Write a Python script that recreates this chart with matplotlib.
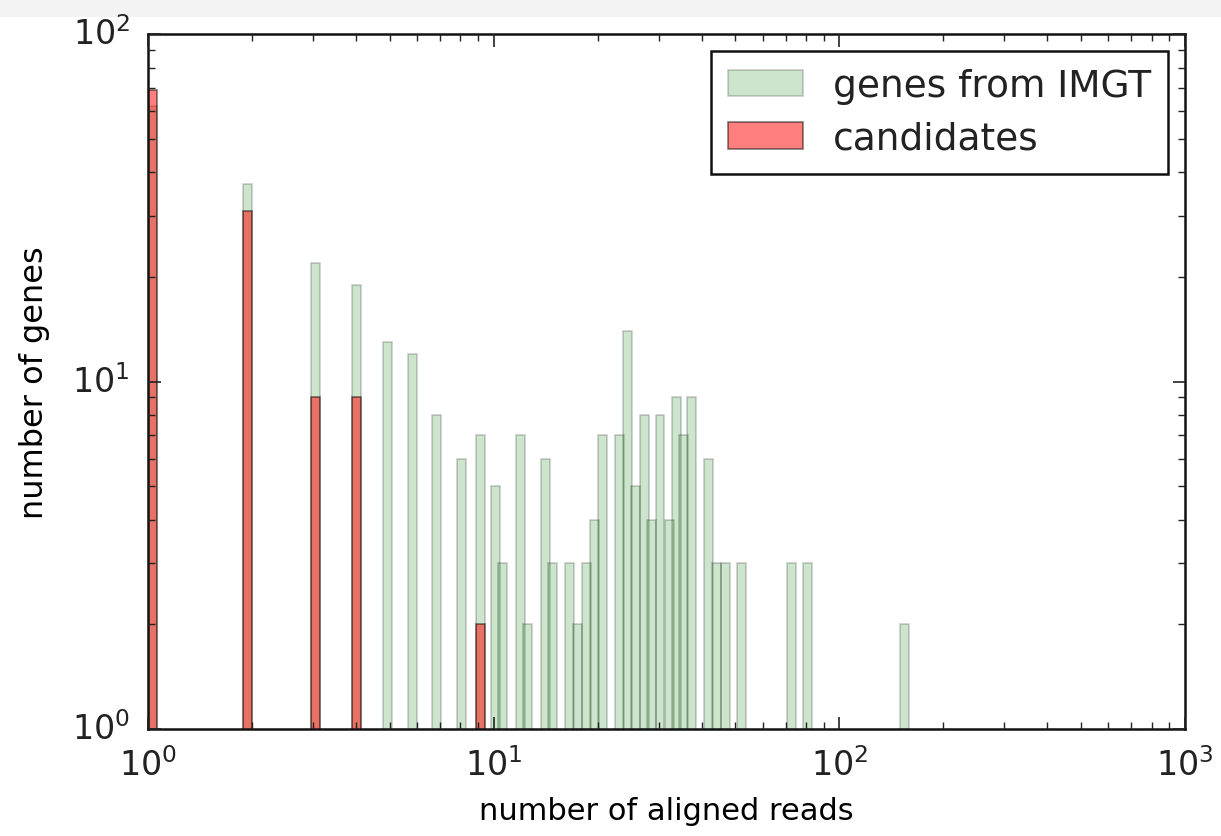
import numpy as np
import matplotlib
matplotlib.use("Agg")
import matplotlib.pyplot as plt
from matplotlib.patches import Rectangle

# read-count value where each bar starts, and how many genes it holds
imgt_left = [1.00, 1.88, 2.96, 3.89, 4.78, 5.64, 6.62, 7.82, 8.87, 9.80,
             10.27, 11.62, 12.13, 13.67, 14.33, 16.04, 16.97, 17.96, 18.95, 20.05,
             22.40, 23.67, 24.89, 26.42, 27.78, 29.39, 31.21, 32.80, 34.48, 36.25,
             40.72, 42.95, 45.61, 50.72, 70.52, 78.69, 150.1]
imgt_genes = [62, 37, 22, 19, 13, 12, 8, 6, 7, 5,
              3, 7, 2, 6, 3, 3, 2, 3, 4, 7,
              7, 14, 5, 8, 4, 8, 4, 9, 7, 9,
              6, 3, 3, 3, 3, 3, 2]

cand_left = [1.00, 1.88, 2.96, 3.89, 8.87]
cand_genes = [69, 31, 9, 9, 2]

plt.style.use('classic')
plt.rcParams['font.family'] = 'DejaVu Sans'
plt.rcParams['mathtext.fontset'] = 'dejavusans'
plt.rcParams['text.color'] = '#222222'
plt.rcParams['xtick.color'] = '#222222'
plt.rcParams['ytick.color'] = '#222222'

fig = plt.figure(figsize=(12.21, 8.37), dpi=100, facecolor='white')
fig.patches.append(Rectangle((0, 1 - 18 / 837), 1, 18 / 837, transform=fig.transFigure,
                             facecolor='#f3f3f3', edgecolor='none', zorder=-1))
ax = fig.add_axes([148 / 1221, 1 - 730 / 837, (1185 - 148) / 1221, (730 - 35) / 837])

# bars have a constant width on the log axis
step = 10 ** 0.026 - 1
imgt_left = np.array(imgt_left)
cand_left = np.array(cand_left)
ax.bar(imgt_left, imgt_genes, width=imgt_left * step, align='edge', bottom=0.0,
       color='g', alpha=0.2, edgecolor='k', linewidth=1.2, label='genes from IMGT')
ax.bar(cand_left, cand_genes, width=cand_left * step, align='edge', bottom=0.0,
       color='r', alpha=0.5, edgecolor='k', linewidth=1.2, label='candidates')

ax.set_xscale('log')
ax.set_yscale('log')
ax.set_xlim(1, 1000)
ax.set_ylim(1, 100)

for s in ax.spines.values():
    s.set_linewidth(1.8)
    s.set_edgecolor('#111111')
ax.tick_params(which='major', length=9, width=1.2, labelsize=24, pad=13)
ax.tick_params(which='minor', length=5, width=1.0)

ax.set_xlabel('number of aligned reads', fontsize=22, labelpad=10)
ax.set_ylabel('number of genes', fontsize=23, labelpad=16)

leg = ax.legend(loc='upper right', fontsize=27, handlelength=2.0, handleheight=0.7,
                handletextpad=0.8, borderpad=0.45, borderaxespad=0.45, labelspacing=0.45)
leg.get_frame().set_linewidth(1.8)
leg.get_frame().set_edgecolor('#111111')

fig.savefig('out.png', dpi=100, facecolor='white')
